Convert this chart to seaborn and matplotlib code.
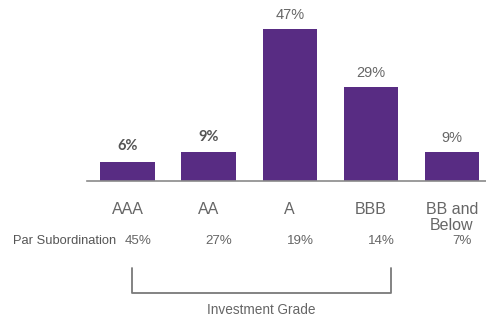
import matplotlib
matplotlib.use("Agg")
import matplotlib.pyplot as plt
import seaborn as sns
import pandas as pd

# Rating distribution data
ratings = ["AAA", "AA", "A", "BBB", "BB and\nBelow"]
share = [6, 9, 47, 29, 9]
par_subordination = ["45%", "27%", "19%", "14%", "7%"]

sns.set_theme(style="white")
plt.rcParams["font.family"] = ["Liberation Sans", "DejaVu Sans"]

purple = "#582C83"
grey_text = "#666666"

fig = plt.figure(figsize=(4.86, 3.2), dpi=100)
ax = fig.add_axes([87 / 486, 1 - 181 / 320, 1 - 87 / 486, 161.7 / 320])

df = pd.DataFrame({"rating": ratings, "share": share})
sns.barplot(data=df, x="rating", y="share", color=purple, saturation=1,
            width=0.67, ax=ax, edgecolor="none")

ax.set_xlim(-0.5, 4.42)
ax.set_ylim(0, 50)
ax.set_xlabel("")
ax.set_ylabel("")
ax.set_yticks([])

for side in ["top", "right", "left"]:
    ax.spines[side].set_visible(False)
ax.spines["bottom"].set_color("#8a8a8a")
ax.spines["bottom"].set_linewidth(1.2)

ax.tick_params(axis="x", length=0, pad=15, labelsize=11.5, labelcolor=grey_text)
for lbl in ax.get_xticklabels():
    lbl.set_linespacing(1.12)

# Value labels above bars
for i, v in enumerate(share):
    if i < 2:
        ax.annotate(f"{v}%", (i, v), xytext=(0, 6), textcoords="offset points",
                    ha="center", va="bottom", fontsize=10.5, fontweight="bold",
                    color="#555555", family=["Lato", "DejaVu Sans"])
    else:
        ax.annotate(f"{v}%", (i, v), xytext=(0, 5), textcoords="offset points",
                    ha="center", va="bottom", fontsize=10.5, color=grey_text)

# Par subordination row
row_y = 1 - 241 / 320
fig.text(13 / 486, row_y, "Par Subordination", fontsize=9.3, color="#555555",
         ha="left", va="center")
for i, s in enumerate(par_subordination):
    xd = ax.transData.transform((i + 0.13, 0))[0]
    xf = fig.transFigure.inverted().transform((xd, 0))[0]
    fig.text(xf, row_y, s, fontsize=9.6, color=grey_text, ha="center", va="center")

# Investment grade bracket
x0, x1 = 132 / 486, 391 / 486
yt, yb = 1 - 268 / 320, 1 - 293 / 320
fig.add_artist(plt.Line2D([x0, x0, x1, x1], [yt, yb, yb, yt],
                          transform=fig.transFigure, color="#7a7a7a", lw=1.3))
fig.text((x0 + x1) / 2, 1 - 310 / 320, "Investment Grade", fontsize=9.8,
         color=grey_text, ha="center", va="center")

fig.savefig("out.png", dpi=100)
